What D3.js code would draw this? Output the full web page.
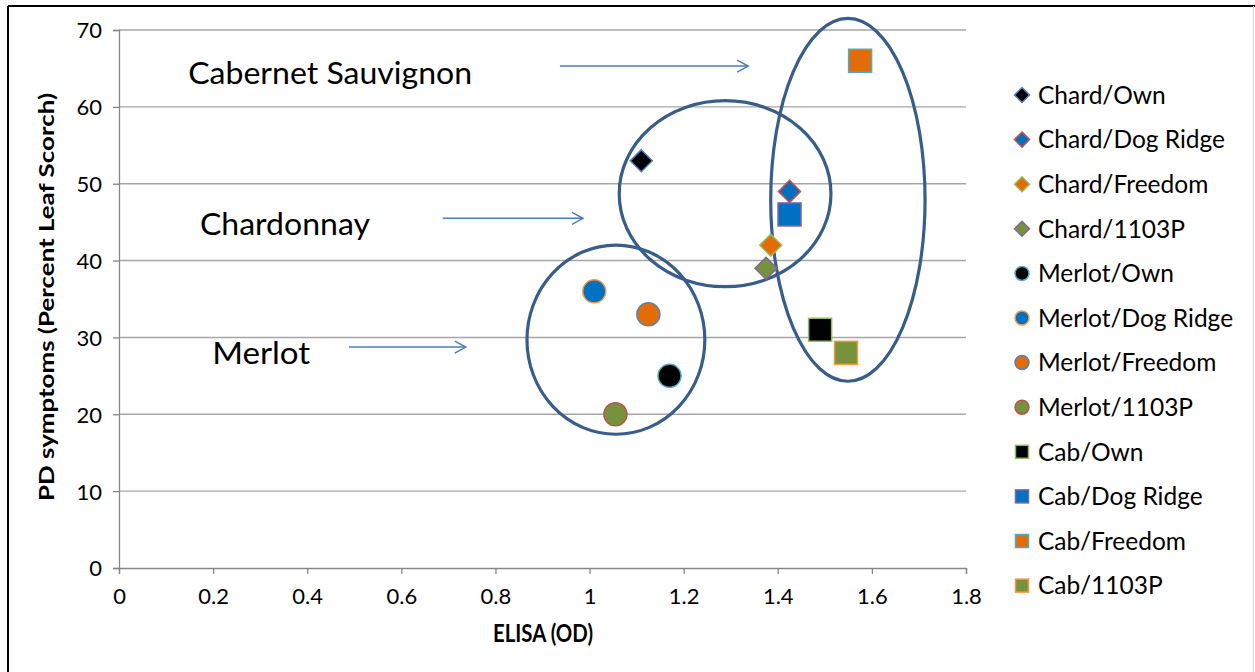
<!DOCTYPE html>
<html><head><meta charset="utf-8">
<script src="https://cdn.jsdelivr.net/npm/d3@7"></script>
<style>
html,body{margin:0;padding:0;background:#fff;}
svg{display:block;font-family:Lato,"Open Sans",sans-serif;}
</style></head>
<body><svg id="chart" width="1255" height="672"></svg>
<script>
// ---- data ----
const seriesNames = ["Chard/Own","Chard/Dog Ridge","Chard/Freedom","Chard/1103P",
  "Merlot/Own","Merlot/Dog Ridge","Merlot/Freedom","Merlot/1103P",
  "Cab/Own","Cab/Dog Ridge","Cab/Freedom","Cab/1103P"];
const elisaValues = [1.11,1.425,1.385,1.375, 1.17,1.01,1.125,1.055, 1.49,1.425,1.575,1.545];
const symptomValues = [53,49,42,39, 25,36,33,20, 31,46,66,28];
const xTicks = [0,0.2,0.4,0.6,0.8,1,1.2,1.4,1.6,1.8];
const yTicks = [0,10,20,30,40,50,60,70];
const groupLabels = ["Cabernet Sauvignon","Chardonnay","Merlot"];
// label anchor / arrow (data coordinates)
const labelX = [0.147,0.172,0.198];
const labelY = [64.4,44.8,28.0];
const arrowFromX = [0.937,0.688,0.489];
const arrowToX = [1.337,0.986,0.737];
const arrowY = [65.3,45.5,28.75];
// ellipses around groups (data coordinates): cx, cy, rx, ry
const ellipseCx = [1.549,1.288,1.056];
const ellipseCy = [47.9,48.7,29.7];
const ellipseRx = [0.164,0.225,0.189];
const ellipseRy = [23.6,12.1,12.3];

// ---- styles ----
const shapeOf = ["diamond","diamond","diamond","diamond","circle","circle","circle","circle","square","square","square","square"];
const fillOf = ["#000000","#0070C0","#E36C09","#76923C","#000000","#0070C0","#E36C09","#76923C","#000000","#0070C0","#E36C09","#76923C"];
const strokeOf = ["#4F81BD","#C0504D","#9BBB59","#8064A2","#4BACC6","#F79646","#4F81BD","#C0504D","#9BBB59","#8064A2","#4BACC6","#F79646"];

const svg = d3.select("#chart");
const x = d3.scaleLinear().domain([0,1.8]).range([119,966]);
const y = d3.scaleLinear().domain([0,70]).range([568,30]);

// frame
svg.append("line").attr("x1",8).attr("x2",1255).attr("y1",6).attr("y2",6).attr("stroke","#000").attr("stroke-width",2);
svg.append("line").attr("x1",8).attr("x2",8).attr("y1",6).attr("y2",672).attr("stroke","#000").attr("stroke-width",2);
svg.append("line").attr("x1",1253.5).attr("x2",1253.5).attr("y1",6).attr("y2",672).attr("stroke","#d9d9d9").attr("stroke-width",1);

// gridlines
svg.append("g").selectAll("line").data(yTicks.filter(d=>d>0)).join("line")
  .attr("x1",x(0)).attr("x2",x(1.8)).attr("y1",d=>y(d)).attr("y2",d=>y(d))
  .attr("stroke","#A6A6A6").attr("stroke-width",1.4);

// axes
const gx = svg.append("g").attr("transform",`translate(0,${y(0)})`)
  .call(d3.axisBottom(x).tickValues(xTicks).tickSize(6).tickPadding(12).tickFormat(d=>String(d)));
const gy = svg.append("g").attr("transform",`translate(${x(0)},0)`)
  .call(d3.axisLeft(y).tickValues(yTicks).tickSize(6).tickPadding(11));
[gx,gy].forEach(g=>{
  g.select(".domain").attr("stroke","#868686").attr("stroke-width",1.3);
  g.selectAll(".tick line").attr("stroke","#868686").attr("stroke-width",1.3);
  g.selectAll(".tick text").attr("font-family","Lato, sans-serif").attr("font-size",22).attr("fill","#000");
});
gx.selectAll(".tick text").attr("dy","0.8em");
gy.selectAll(".tick text").attr("dy","0.36em");

// axis titles
svg.append("text").attr("x",543).attr("y",642).attr("text-anchor","middle")
  .attr("font-weight","bold").attr("font-size",24).attr("textLength",100).attr("lengthAdjust","spacingAndGlyphs").text("ELISA (OD)");
svg.append("text").attr("transform","translate(54,297) rotate(-90)").attr("text-anchor","middle")
  .attr("font-weight","bold").attr("font-size",21.5).attr("textLength",408).attr("lengthAdjust","spacingAndGlyphs")
  .text("PD symptoms (Percent Leaf Scorch)");

// group ellipses
svg.append("g").selectAll("ellipse").data(ellipseCx).join("ellipse")
  .attr("cx",(d)=>x(d)).attr("cy",(d,i)=>y(ellipseCy[i]))
  .attr("rx",(d,i)=>x(ellipseRx[i])-x(0)).attr("ry",(d,i)=>y(0)-y(ellipseRy[i]))
  .attr("fill","none").attr("stroke","#385D8A").attr("stroke-width",3.2);

// group labels + arrows
const labelWidths = [284,170,98];
svg.append("g").selectAll("text").data(groupLabels).join("text")
  .attr("x",(d,i)=>x(labelX[i])).attr("y",(d,i)=>y(labelY[i]))
  .attr("dy","0.36em").attr("font-size",31).attr("fill","#000")
  .attr("textLength",(d,i)=>labelWidths[i]).attr("lengthAdjust","spacingAndGlyphs")
  .text(d=>d);
const arrows = svg.append("g").attr("stroke","#4A7EBB").attr("stroke-width",1.5).attr("fill","none");
arrowY.forEach((v,i)=>{
  const x0=x(arrowFromX[i]), x1=x(arrowToX[i]), yy=y(v);
  arrows.append("line").attr("x1",x0).attr("x2",x1).attr("y1",yy).attr("y2",yy);
  arrows.append("path").attr("d",`M${x1-11},${yy-6}L${x1},${yy}L${x1-11},${yy+6}`);
});

// markers
function drawMarker(g, shape, size){
  if(shape==="circle") return g.append("circle").attr("r",size/2);
  if(shape==="square") return g.append("rect").attr("x",-size/2).attr("y",-size/2).attr("width",size).attr("height",size);
  const h=size/2; return g.append("path").attr("d",`M0,${-h}L${h},0L0,${h}L${-h},0Z`);
}
const sizeOf = {diamond:22, circle:23, square:23};
seriesNames.forEach((n,i)=>{
  const g = svg.append("g").attr("transform",`translate(${x(elisaValues[i])},${y(symptomValues[i])})`);
  drawMarker(g, shapeOf[i], sizeOf[shapeOf[i]]).attr("fill",fillOf[i]).attr("stroke",strokeOf[i]).attr("stroke-width",1.5);
});

// legend
const legSize = {diamond:15, circle:14, square:13};
const leg = svg.append("g");
seriesNames.forEach((n,i)=>{
  const yy = 95 + i*44.6;
  const g = leg.append("g").attr("transform",`translate(1022,${yy})`);
  drawMarker(g, shapeOf[i], legSize[shapeOf[i]]).attr("fill",fillOf[i]).attr("stroke",strokeOf[i]).attr("stroke-width",1.5);
  leg.append("text").attr("x",1038).attr("y",yy).attr("dy","0.36em").attr("font-size",24.5).attr("fill","#000").text(n);
});
</script></body></html>
